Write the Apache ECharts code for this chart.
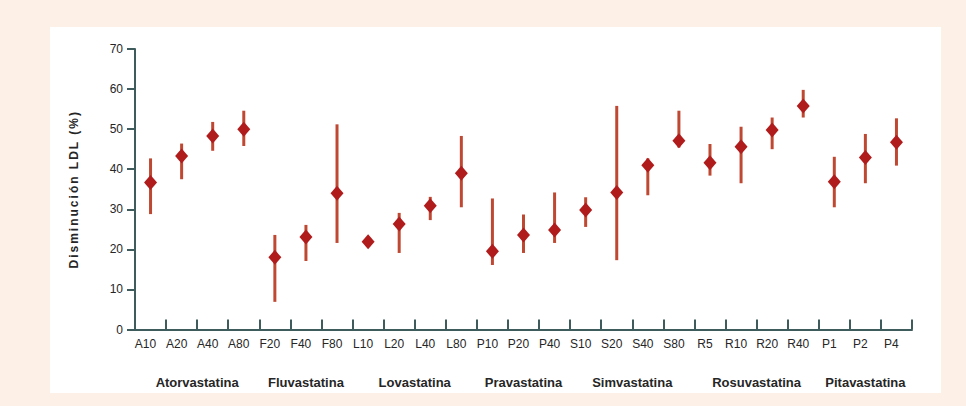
<!DOCTYPE html>
<html>
<head>
<meta charset="utf-8">
<script src="https://cdn.jsdelivr.net/npm/echarts@6/dist/echarts.min.js"></script>
<style>
  html, body { margin: 0; padding: 0; width: 966px; height: 406px; background: #fdf0e6; overflow: hidden; }
  #panel { position: absolute; left: 50px; top: 27px; width: 891px; height: 366px; background: #ffffff; }
  #chart { position: absolute; left: 0; top: 0; width: 966px; height: 406px; }
</style>
</head>
<body>
<div id="panel"></div>
<div id="chart"></div>
<script>
const categories = ['A10','A20','A40','A80','F20','F40','F80','L10','L20','L40','L80','P10','P20','P40','S10','S20','S40','S80','R5','R10','R20','R40','P1','P2','P4'];
const means = [36.7,43.3,48.3,50.0,18.0,23.1,34.0,21.9,26.3,30.9,39.0,19.5,23.6,24.8,29.8,34.2,41.0,47.1,41.6,45.6,49.8,55.8,36.9,42.9,46.7];
const lows  = [28.8,37.5,44.6,45.8,6.9,17.1,21.6,20.9,19.1,27.3,30.5,16.1,19.1,21.6,25.6,17.3,33.5,45.4,38.4,36.5,45.0,52.9,30.5,36.5,40.9];
const highs = [42.7,46.4,51.8,54.6,23.6,26.1,51.2,23.0,29.1,33.1,48.3,32.7,28.7,34.2,33.0,55.8,42.7,54.6,46.3,50.6,52.9,59.8,43.1,48.8,52.7];
const groups = ['Atorvastatina','Fluvastatina','Lovastatina','Pravastatina','Simvastatina','Rosuvastatina','Pitavastatina'];
const groupFirst = [0,4,7,11,14,18,22];
const groupLast  = [3,6,10,13,17,21,24];
const yTicks = [0,10,20,30,40,50,60,70];
const yTitle = 'Disminución LDL (%)';

const groupCenters = groups.map((g,i) => (groupFirst[i] + groupLast[i]) / 2);

const axisColor = '#3e5c5c';
const textColor = '#262626';
const font = 'Liberation Sans, Arial, sans-serif';

const chart = echarts.init(document.getElementById('chart'), null, { renderer: 'svg' });
chart.setOption({
  animation: false,
  backgroundColor: 'transparent',
  grid: { left: 135, right: 54, top: 49, bottom: 76.5, containLabel: false },
  xAxis: [
    {
      type: 'category',
      data: categories,
      boundaryGap: true,
      axisLine: { show: true, onZero: false, lineStyle: { color: axisColor, width: 2 } },
      axisTick: { show: true, inside: true, length: 10, lineStyle: { color: axisColor, width: 2 } },
      axisLabel: { color: textColor, fontSize: 12, fontFamily: font, margin: 8, interval: 0, padding: [0, 10, 0, 0] },
      splitLine: { show: false }
    },
    {
      type: 'value',
      position: 'bottom',
      min: -0.5,
      max: 24.5,
      axisLine: { show: false, onZero: false },
      axisTick: { show: false },
      splitLine: { show: false },
      axisLabel: {
        customValues: groupCenters,
        formatter: (v) => { const k = groupCenters.indexOf(v); return k >= 0 ? groups[k] : ''; },
        color: textColor, fontSize: 13, fontWeight: 'bold', fontFamily: font, margin: 46
      }
    }
  ],
  yAxis: {
    type: 'value',
    min: 0,
    max: 70,
    interval: 10,
    name: yTitle,
    nameLocation: 'middle',
    nameGap: 55,
    nameTextStyle: { color: textColor, fontSize: 12, fontWeight: 'bold', fontFamily: font },
    axisLine: { show: true, onZero: false, lineStyle: { color: axisColor, width: 2 } },
    axisTick: { show: true, length: 8, lineStyle: { color: axisColor, width: 2 } },
    axisLabel: { color: textColor, fontSize: 12, fontFamily: font, margin: 12,
      formatter: (v) => yTicks.indexOf(v) >= 0 ? String(v) : '' },
    splitLine: { show: false }
  },
  series: [
    {
      type: 'custom',
      xAxisIndex: 0,
      data: categories.map((c, i) => [i, lows[i], highs[i]]),
      renderItem: function (params, api) {
        const lo = api.coord([api.value(0), api.value(1)]);
        const hi = api.coord([api.value(0), api.value(2)]);
        return {
          type: 'line',
          shape: { x1: lo[0], y1: lo[1], x2: hi[0], y2: hi[1] },
          style: { stroke: '#bf4832', lineWidth: 3 }
        };
      },
      z: 2
    },
    {
      type: 'scatter',
      xAxisIndex: 0,
      data: means,
      symbol: 'diamond',
      symbolSize: [13, 15],
      itemStyle: { color: '#b01c1c', opacity: 1 },
      z: 3
    }
  ]
});

function spaceTitle() {
  document.querySelectorAll('#chart svg text').forEach(t => {
    if (t.textContent === yTitle) {
      t.setAttribute('letter-spacing', '2');
      t.style.letterSpacing = '2px';
    }
  });
}
spaceTitle();
chart.on('finished', spaceTitle);
setTimeout(spaceTitle, 0);
</script>
</body>
</html>
